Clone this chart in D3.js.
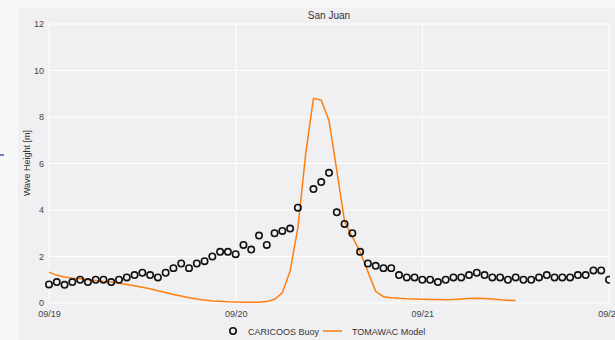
<!DOCTYPE html>
<html>
<head>
<meta charset="utf-8">
<script src="https://cdn.jsdelivr.net/npm/d3@7"></script>
<style>
  body { margin: 0; background: #f6f7f9; }
  svg { display: block; font-family: "Liberation Sans", Arial, sans-serif; }
</style>
</head>
<body>
<svg id="chart" width="615" height="340"></svg>
<script>
// hourly series starting 2017-09-19 00:00 UTC
var startTime = Date.UTC(2017, 8, 19, 0);

// CARICOOS buoy, one value per hour (null = no reading)
var buoyValues = [
  0.8, 0.9, 0.78, 0.9, 1.0, 0.9, 1.0, 1.0, 0.9, 1.0, 1.1, 1.2,
  1.3, 1.2, 1.1, 1.3, 1.5, 1.7, 1.5, 1.7, 1.8, 2.0, 2.2, 2.2,
  2.1, 2.5, 2.3, 2.9, 2.5, 3.0, 3.1, 3.2, 4.1, null, 4.9, 5.2,
  5.6, 3.9, 3.4, 3.0, 2.2, 1.7, 1.6, 1.5, 1.5, 1.2, 1.1, 1.1,
  1.0, 1.0, 0.9, 1.0, 1.1, 1.1, 1.2, 1.3, 1.2, 1.1, 1.1, 1.0,
  1.1, 1.0, 1.0, 1.1, 1.2, 1.1, 1.1, 1.1, 1.2, 1.2, 1.4, 1.4,
  1.0
];

// TOMAWAC model, one value per hour
var modelValues = [
  1.33, 1.19, 1.12, 1.07, 1.04, 1.0, 0.97, 0.92, 0.9, 0.85, 0.8, 0.74,
  0.68, 0.61, 0.53, 0.45, 0.37, 0.3, 0.23, 0.17, 0.13, 0.09, 0.07, 0.05,
  0.04, 0.03, 0.03, 0.03, 0.06, 0.16, 0.44, 1.38, 3.24, 6.4, 8.8, 8.73,
  7.84, 5.7, 3.5, 2.85, 2.2, 1.35, 0.5, 0.27, 0.23, 0.2, 0.18, 0.17,
  0.16, 0.15, 0.15, 0.14, 0.15, 0.17, 0.19, 0.2, 0.19, 0.17, 0.14, 0.12,
  0.11
];

var yTicks = [0, 2, 4, 6, 8, 10, 12];
var xTickLabels = ["09/19", "09/20", "09/21", "09/22"];

var hour = 3600 * 1000;
function toDate(i) { return new Date(startTime + i * hour); }

var buoy = buoyValues.map(function(v, i) { return {t: toDate(i), v: v}; })
  .filter(function(d) { return d.v != null; });
var model = modelValues.map(function(v, i) { return {t: toDate(i), v: v}; });

var margin = {top: 24, right: 5, bottom: 37, left: 49}
  , width = 615
  , height = 340;

var svg = d3.select("#chart");

// panel background
svg.append("rect")
  .attr("x", 18).attr("y", 8)
  .attr("width", width - 18).attr("height", height - 8)
  .attr("fill", "#f0f0f3");

// stray blue mark at the far left
svg.append("line")
  .attr("x1", 0).attr("x2", 4)
  .attr("y1", 155).attr("y2", 155)
  .attr("stroke", "#2233aa").attr("stroke-width", 1.2);

var x = d3.scaleUtc()
  .domain([new Date(startTime), new Date(startTime + 72 * hour)])
  .range([margin.left, width - margin.right - 1]);

var y = d3.scaleLinear()
  .domain([0, 12])
  .range([height - margin.bottom, margin.top]);

var dayTicks = xTickLabels.map(function(d, i) { return new Date(startTime + i * 24 * hour); });

// grid
var grid = svg.append("g");
grid.selectAll(".hg").data(yTicks).enter().append("line")
  .attr("x1", margin.left).attr("x2", x.range()[1])
  .attr("y1", function(d) { return y(d); }).attr("y2", function(d) { return y(d); })
  .attr("stroke", "#ffffff").attr("stroke-width", 1);
grid.selectAll(".vg").data(dayTicks).enter().append("line")
  .attr("x1", function(d) { return x(d); }).attr("x2", function(d) { return x(d); })
  .attr("y1", y(12)).attr("y2", y(0))
  .attr("stroke", "#ffffff").attr("stroke-width", 1);

// axes (labels only)
var yAxis = svg.append("g")
  .attr("transform", "translate(" + (margin.left - 5) + ",0)")
  .call(d3.axisLeft(y).tickValues(yTicks).tickSize(0).tickPadding(0));
yAxis.select(".domain").remove();
yAxis.selectAll("text")
  .attr("font-size", 9).attr("fill", "#444")
  .attr("font-family", "Liberation Sans, Arial, sans-serif");

var xAxis = svg.append("g")
  .attr("transform", "translate(0," + (y(0) + 8) + ")")
  .call(d3.axisBottom(x).tickValues(dayTicks)
    .tickFormat(function(d, i) { return xTickLabels[i]; })
    .tickSize(0).tickPadding(0));
xAxis.select(".domain").remove();
xAxis.selectAll("text")
  .attr("font-size", 9).attr("fill", "#444")
  .attr("font-family", "Liberation Sans, Arial, sans-serif");

// clip to plot area
svg.append("clipPath").attr("id", "plotclip")
  .append("rect")
  .attr("x", margin.left - 6).attr("y", margin.top - 6)
  .attr("width", x.range()[1] - margin.left + 7)
  .attr("height", y(0) - margin.top + 12);

var plot = svg.append("g").attr("clip-path", "url(#plotclip)");

var line = d3.line()
  .x(function(d) { return x(d.t); })
  .y(function(d) { return y(d.v); });

plot.append("path")
  .datum(model)
  .attr("d", line)
  .attr("fill", "none")
  .attr("stroke", "#ff7f0e")
  .attr("stroke-width", 1.5);

plot.selectAll(".pt").data(buoy).enter().append("circle")
  .attr("cx", function(d) { return x(d.t); })
  .attr("cy", function(d) { return y(d.v); })
  .attr("r", 3.2)
  .attr("fill", "none")
  .attr("stroke", "#111")
  .attr("stroke-width", 1.6);

// title
svg.append("text")
  .attr("x", (margin.left + x.range()[1]) / 2)
  .attr("y", 19)
  .attr("text-anchor", "middle")
  .attr("font-size", 10)
  .attr("fill", "#333")
  .text("San Juan");

// y label
svg.append("text")
  .attr("transform", "translate(30,163) rotate(-90)")
  .attr("text-anchor", "middle")
  .attr("font-size", 9)
  .attr("fill", "#333")
  .text("Wave Height [m]");

// legend
var legend = svg.append("g").attr("transform", "translate(0,331)");
legend.append("circle")
  .attr("cx", 233).attr("cy", 0).attr("r", 3.2)
  .attr("fill", "none").attr("stroke", "#111").attr("stroke-width", 1.6);
legend.append("text")
  .attr("x", 248).attr("y", 3.5)
  .attr("font-size", 9).attr("fill", "#333")
  .text("CARICOOS Buoy");
legend.append("line")
  .attr("x1", 323).attr("x2", 342).attr("y1", 0).attr("y2", 0)
  .attr("stroke", "#ff7f0e").attr("stroke-width", 1.5);
legend.append("text")
  .attr("x", 352).attr("y", 3.5)
  .attr("font-size", 9).attr("fill", "#333")
  .text("TOMAWAC Model");
</script>
</body>
</html>
